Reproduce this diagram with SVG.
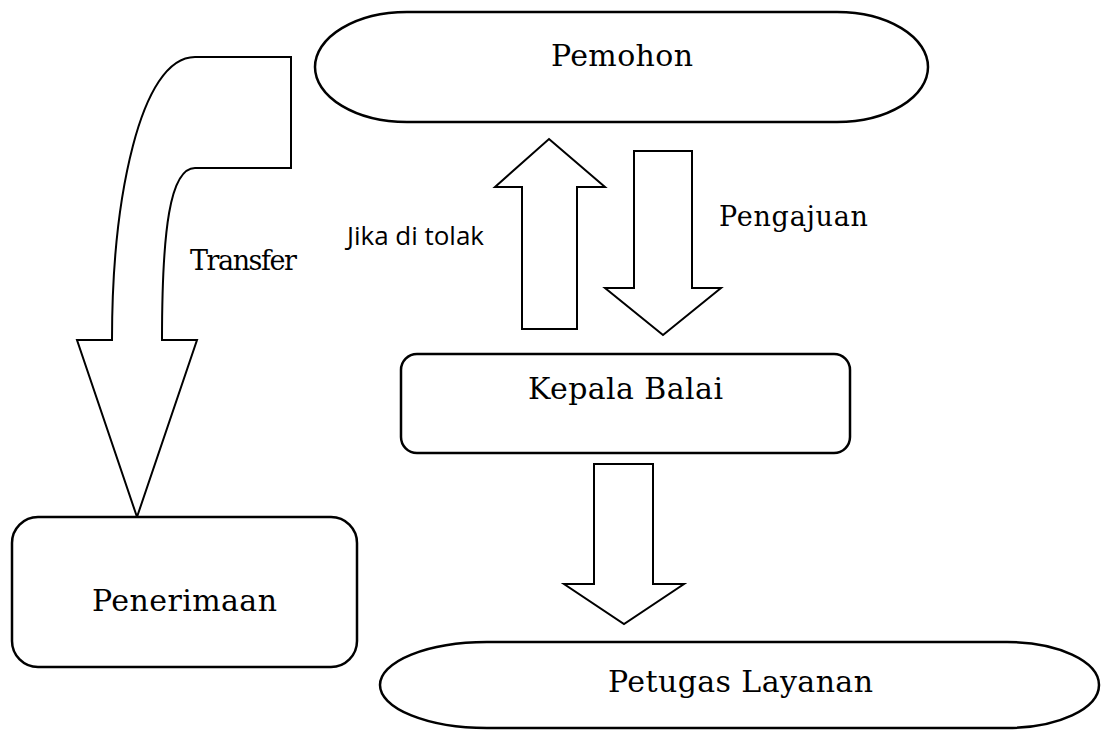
<svg xmlns="http://www.w3.org/2000/svg" width="1102" height="730" viewBox="0 0 1102 730">
<style>
.shape{fill:#fff;stroke:#000;stroke-width:2.5}
.arrow{fill:#fff;stroke:#000;stroke-width:2;stroke-linejoin:miter}
.lbl{font-family:"DejaVu Serif","Liberation Serif",serif;font-size:30px;fill:#000;text-anchor:middle}
.mid{font-family:"DejaVu Serif","Liberation Serif",serif;font-size:27px;fill:#000;text-anchor:middle}
.sans{font-family:"Open Sans","Noto Sans","Liberation Sans",sans-serif;font-size:26px;fill:#000;text-anchor:middle}
</style>
<rect width="1102" height="730" fill="#fff"/>
<g id="connectors">
<path class="arrow" d="M195,57 H291 V168 H195 C170,168 162,230 162,340 H197 L137,517 L77,340 H112 C112,200 140,57 195,57 Z"/>
<path class="arrow" d="M549,139 L605,187 L577,187 L577,329 L522,329 L522,187 L495,187 Z"/>
<path class="arrow" d="M634,151 H692 V288 H721 L663,335 L605,288 H634 Z"/>
<path class="arrow" d="M594,464 H653 V584 H684 L624,624 L564,584 H594 Z"/>
<text class="mid" x="243.5" y="270" textLength="107">Transfer</text>
<text class="sans" x="415.5" y="245" textLength="137">Jika di tolak</text>
<text class="mid" x="793.5" y="226" textLength="149">Pengajuan</text>
</g>
<g id="pemohon">
<path class="shape" d="M407,12 H837 A91,55 0 0 1 837,122 H407 A92,55 0 0 1 407,12 Z"/>
<text class="lbl" x="622" y="66" textLength="142">Pemohon</text>
</g>
<g id="kepala-balai">
<rect class="shape" x="401" y="354" width="449" height="99" rx="16"/>
<text class="lbl" x="625.5" y="399" textLength="195">Kepala Balai</text>
</g>
<g id="petugas-layanan">
<path class="shape" d="M487,642 H1007 A92,43 0 0 1 1007,728 H487 A107,43 0 0 1 487,642 Z"/>
<text class="lbl" x="740.5" y="692" textLength="265">Petugas Layanan</text>
</g>
<g id="penerimaan">
<rect class="shape" x="12" y="517" width="345" height="150" rx="26"/>
<text class="lbl" x="184.5" y="611" textLength="185">Penerimaan</text>
</g>
</svg>
